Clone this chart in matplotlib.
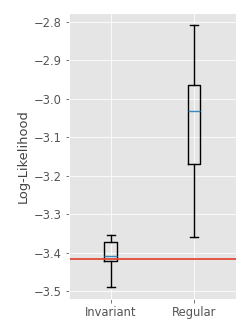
import matplotlib
matplotlib.use("Agg")
import matplotlib.pyplot as plt

plt.style.use("ggplot")

labels = ["Invariant", "Regular"]
whislo = [-3.489, -3.360]
q1 = [-3.422, -3.170]
med = [-3.410, -3.033]
q3 = [-3.373, -2.964]
whishi = [-3.355, -2.808]
baseline = -3.417

stats = []
for i in range(len(labels)):
    stats.append(dict(label=labels[i], whislo=whislo[i], q1=q1[i], med=med[i],
                      q3=q3[i], whishi=whishi[i], fliers=[]))

fig = plt.figure(figsize=(249 / 72, 332 / 72), dpi=72)
ax = fig.add_axes([0.277, 0.100, 0.670, 0.861])

line = dict(color="black", linewidth=1.4)
ax.bxp(stats, widths=0.15, capwidths=0.1, showfliers=False,
       boxprops=line, whiskerprops=line, capprops=line,
       medianprops=dict(color="#348ABD", linewidth=1.4))
ax.axhline(baseline, color="#E24A33", linewidth=1.8)

ax.set_ylabel("Log-Likelihood", fontsize=13, color="#444444")
ax.set_xlim(0.5, 2.5)
ax.set_ylim(-3.52, -2.777)
ax.set_yticks([-3.5, -3.4, -3.3, -3.2, -3.1, -3.0, -2.9, -2.8])
ax.tick_params(axis="both", labelsize=11.5, colors="#555555")

fig.savefig("out.png", dpi=72)
